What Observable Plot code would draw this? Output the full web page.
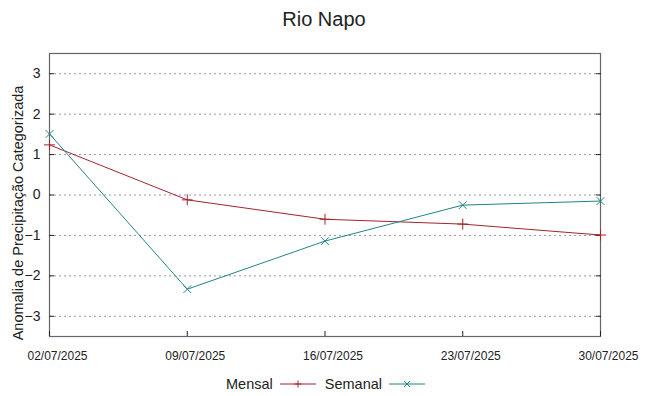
<!DOCTYPE html>
<html><head><meta charset="utf-8">
<script src="https://cdn.jsdelivr.net/npm/d3@7"></script>
<script src="https://cdn.jsdelivr.net/npm/@observablehq/plot@0.6"></script>
<style>
body{margin:0;background:#fff;font-family:"Liberation Sans",Arial,sans-serif;width:648px;}
#title{height:36px;line-height:38px;text-align:center;font-size:20px;color:#222;}
#legend{height:16px;display:flex;justify-content:center;align-items:center;font-size:14.5px;color:#222;padding-left:12px;margin-top:0px;}
#legend span{margin-right:6px;}
#legend svg{margin-right:8px;}
</style></head>
<body>
<div id="title">Rio Napo</div>
<div id="chart"></div>
<div id="legend"></div>
<script>
const dates = ["2025-07-02","2025-07-09","2025-07-16","2025-07-23","2025-07-30"];
const mensal = [1.24, -0.12, -0.60, -0.72, -0.99];
const semanal = [1.51, -2.33, -1.14, -0.25, -0.15];
const yTicks = [-3,-2,-1,0,1,2,3];
const seriesNames = ["Mensal","Semanal"];
const colors = {Mensal:"#a3232b", Semanal:"#1f8585"};
const symbols = {Mensal:"plus", Semanal:"times"};

const parse = d3.utcParse("%Y-%m-%d");
const dateVals = dates.map(parse);
const rows = [];
dates.forEach((d,i)=>{
  rows.push({date:dateVals[i], value:mensal[i], series:"Mensal"});
  rows.push({date:dateVals[i], value:semanal[i], series:"Semanal"});
});

const plot = Plot.plot({
  width:648, height:340,
  marginTop:17, marginBottom:40, marginLeft:49, marginRight:48,
  style:{fontFamily:"Liberation Sans, Arial, sans-serif", background:"#fff", overflow:"visible"},
  x:{type:"utc", domain:[dateVals[0], dateVals[dateVals.length-1]]},
  y:{domain:[-3.5,3.5]},
  marks:[
    Plot.gridY(yTicks, {stroke:"#999", strokeOpacity:1, strokeDasharray:"2,3"}),
    Plot.frame({stroke:"#666", strokeWidth:1.2}),
    Plot.axisY(yTicks, {anchor:"left", tickSize:0, tickPadding:9, fontSize:14, fill:"#222", label:null}),
    Plot.axisY(yTicks, {anchor:"left", tickSize:-5, text:null, label:null, stroke:"#222"}),
    Plot.axisY(yTicks, {anchor:"right", tickSize:-5, text:null, label:null, stroke:"#222"}),
    Plot.axisX(dateVals, {anchor:"bottom", tickSize:0, tickPadding:15, dx:8, fontSize:12, fill:"#222", tickFormat:d3.utcFormat("%d/%m/%Y"), label:null}),
    Plot.axisX(dateVals, {anchor:"bottom", tickSize:-5, text:null, label:null, stroke:"#222"}),
    Plot.line(rows, {x:"date", y:"value", z:"series", stroke:d=>colors[d.series], strokeWidth:1}),
    Plot.dot(rows, {x:"date", y:"value", symbol:d=>symbols[d.series], stroke:d=>colors[d.series], fill:"none", r:3.6, strokeWidth:1}),
    Plot.text(["Anomalia de Precipitação Categorizada"], {frameAnchor:"left", textAnchor:"middle", rotate:-90, dx:-31, dy:18, fontSize:14.5, fill:"#222"})
  ]
});
document.getElementById("chart").appendChild(plot);

const leg = d3.select("#legend");
seriesNames.forEach(name=>{
  leg.append("span").text(name);
  const s = leg.append("svg").attr("width",38).attr("height",14);
  s.append("line").attr("x1",1).attr("x2",37).attr("y1",7).attr("y2",7).attr("stroke",colors[name]).attr("stroke-width",1);
  if(name==="Mensal"){
    s.append("path").attr("d","M19,3.5V10.5M15.5,7H22.5").attr("stroke",colors[name]).attr("fill","none");
  } else {
    s.append("path").attr("d","M16,4L22,10M22,4L16,10").attr("stroke",colors[name]).attr("fill","none");
  }
});
</script>
</body></html>
